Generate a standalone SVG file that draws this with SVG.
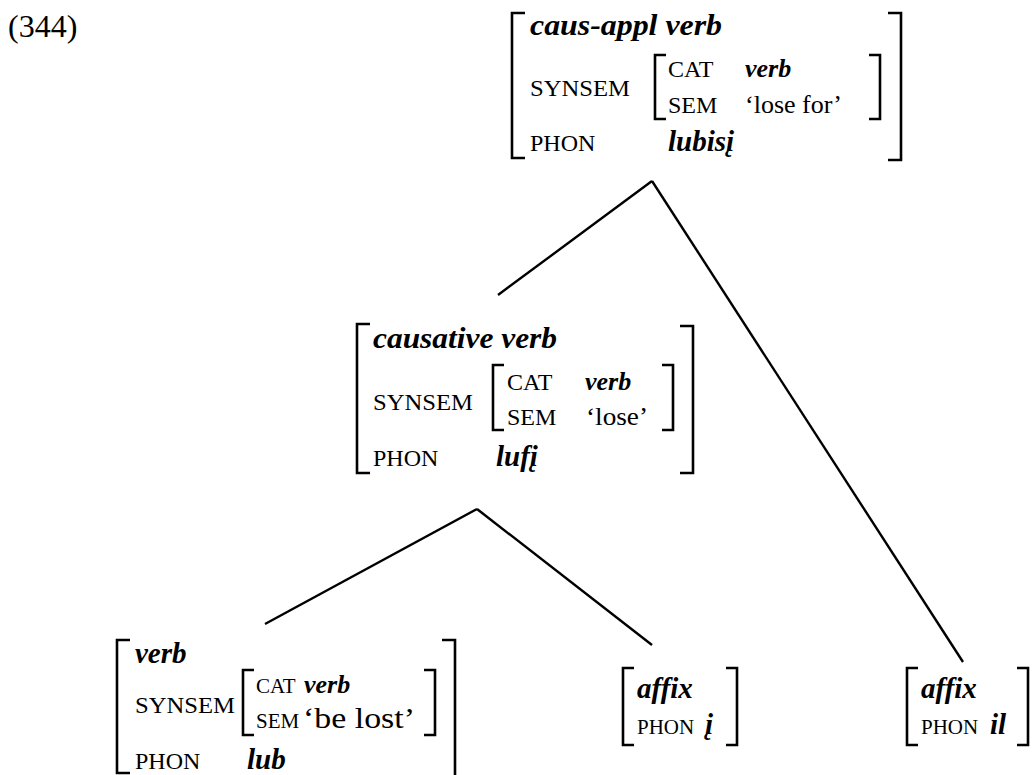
<svg xmlns="http://www.w3.org/2000/svg" width="1035" height="775" viewBox="0 0 1035 775">
<style>
text{font-family:"Liberation Serif","DejaVu Serif",serif;fill:#000}
.lbl{font-size:24px}
.sm{font-size:21px}
.ttl{font-size:29px;font-style:italic;font-weight:bold}
.val{font-size:26px;font-style:italic;font-weight:bold}
.sem{font-size:26px}
.ph{font-size:29px;font-style:italic;font-weight:bold}
.num{font-size:32px}
.br{fill:none;stroke:#000;stroke-width:2.6}
.ln{fill:none;stroke:#000;stroke-width:2.4}
</style>
<rect width="1035" height="775" fill="#fff"/>
<text class="num" x="8" y="37">(344)</text>

<g id="connectors">
<line class="ln" x1="652" y1="181" x2="498" y2="295"/>
<line class="ln" x1="652" y1="181" x2="963" y2="662"/>
<line class="ln" x1="477" y1="509" x2="265" y2="624"/>
<line class="ln" x1="477" y1="509" x2="652" y2="645"/>
</g>

<g id="node-caus-appl">
<path class="br" d="M525,13 H512 V158 H525"/>
<path class="br" d="M888,13 H901 V160 H888"/>
<path class="br" d="M666,55 H655 V119 H666"/>
<path class="br" d="M869,55 H880 V119 H869"/>
<text class="ttl" x="530" y="35" textLength="192" lengthAdjust="spacingAndGlyphs">caus-appl verb</text>
<text class="lbl" x="530" y="96" textLength="100" lengthAdjust="spacingAndGlyphs">SYNSEM</text>
<text class="lbl" x="668" y="77">CAT</text>
<text class="val" x="745" y="77">verb</text>
<text class="lbl" x="668" y="113">SEM</text>
<text class="sem" x="745" y="113" textLength="97" lengthAdjust="spacingAndGlyphs">‘lose for’</text>
<text class="lbl" x="530" y="151">PHON</text>
<text class="ph" x="668" y="151">lubisį</text>
</g>

<g id="node-causative">
<path class="br" d="M370,324 H357 V473 H370"/>
<path class="br" d="M680,326 H693 V473 H680"/>
<path class="br" d="M504,365 H493 V430 H504"/>
<path class="br" d="M662,365 H673 V430 H662"/>
<text class="ttl" x="373" y="348" textLength="184" lengthAdjust="spacingAndGlyphs">causative verb</text>
<text class="lbl" x="373" y="410" textLength="100" lengthAdjust="spacingAndGlyphs">SYNSEM</text>
<text class="lbl" x="507" y="390">CAT</text>
<text class="val" x="585" y="390">verb</text>
<text class="lbl" x="507" y="425">SEM</text>
<text class="sem" x="586" y="425" textLength="62" lengthAdjust="spacingAndGlyphs">‘lose’</text>
<text class="lbl" x="373" y="466">PHON</text>
<text class="ph" x="496" y="466">lufį</text>
</g>

<g id="node-verb">
<path class="br" d="M130,640 H117 V773 H130"/>
<path class="br" d="M442,640 H455 V780"/>
<path class="br" d="M254,670 H243 V735 H254"/>
<path class="br" d="M424,670 H435 V735 H424"/>
<text class="ttl" x="135" y="663">verb</text>
<text class="lbl" x="135" y="713" textLength="100" lengthAdjust="spacingAndGlyphs">SYNSEM</text>
<text class="sm" x="256" y="693">CAT</text>
<text class="val" x="304" y="693">verb</text>
<text class="sm" x="256" y="728">SEM</text>
<text class="sem" x="303" y="728" style="font-size:29px" textLength="112" lengthAdjust="spacingAndGlyphs">‘be lost’</text>
<text class="lbl" x="135" y="769">PHON</text>
<text class="ph" x="247" y="769">lub</text>
</g>

<g id="node-affix-i">
<path class="br" d="M634,668 H623 V745 H634"/>
<path class="br" d="M726,668 H737 V745 H726"/>
<text class="ttl" x="637" y="698">affix</text>
<text class="sm" x="637" y="734">PHON</text>
<text class="ph" x="705" y="734">į</text>
</g>

<g id="node-affix-il">
<path class="br" d="M918,668 H907 V745 H918"/>
<path class="br" d="M1017,668 H1028 V745 H1017"/>
<text class="ttl" x="921" y="698">affix</text>
<text class="sm" x="921" y="734">PHON</text>
<text class="ph" x="990" y="734">il</text>
</g>
</svg>
